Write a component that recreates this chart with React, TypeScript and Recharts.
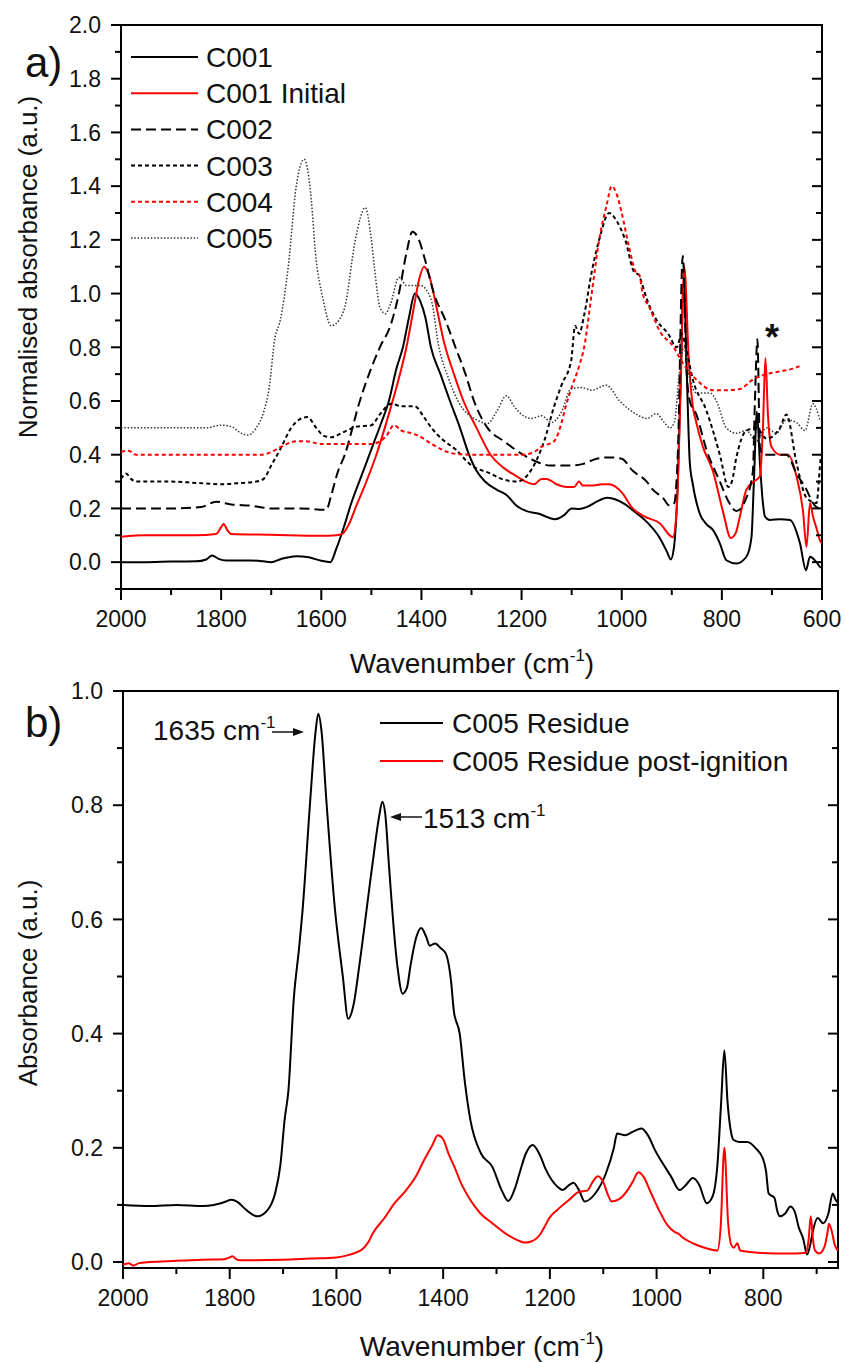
import { Line, LineChart, ReferenceArea, XAxis, YAxis } from 'recharts';

type Pt = [number, number];

// panel a) — [wavenumber, normalised absorbance]
const C001: Pt[] = [
  [2000, 0.0], [1950, 0.0], [1900, 0.002], [1850, 0.003], [1830, 0.01], [1818, 0.025], [1805, 0.012],
  [1790, 0.006], [1740, 0.006], [1715, 0.003], [1700, 0.0], [1680, 0.012], [1650, 0.022], [1625, 0.018],
  [1600, 0.005], [1582, 0.0], [1570, 0.05], [1555, 0.13], [1540, 0.22], [1520, 0.32], [1500, 0.42],
  [1480, 0.52], [1465, 0.6], [1450, 0.72], [1437, 0.8], [1425, 0.91], [1413, 1.0], [1402, 0.97],
  [1392, 0.91], [1381, 0.8], [1362, 0.7], [1343, 0.6], [1323, 0.5], [1305, 0.4], [1290, 0.34],
  [1273, 0.3], [1250, 0.27], [1230, 0.25], [1210, 0.21], [1190, 0.19], [1165, 0.18], [1145, 0.165],
  [1133, 0.16], [1115, 0.175], [1100, 0.2], [1085, 0.198], [1070, 0.205], [1050, 0.225], [1030, 0.24],
  [1015, 0.235], [993, 0.215], [978, 0.193], [950, 0.15], [924, 0.09], [910, 0.04], [902, 0.01],
  [896, 0.05], [888, 0.3], [882, 0.7], [876, 1.05], [870, 0.7], [864, 0.37], [858, 0.29], [844, 0.18],
  [830, 0.14], [818, 0.12], [804, 0.07], [791, 0.007], [771, -0.005], [751, 0.02], [741, 0.09],
  [736, 0.3], [730, 0.56], [724, 0.37], [718, 0.22], [714, 0.17], [704, 0.157], [684, 0.16],
  [664, 0.157], [644, 0.07], [632, -0.03], [624, 0.02], [611, 0.0], [602, -0.02], [600, -0.02],
];

const C001_INITIAL: Pt[] = [
  [2000, 0.095], [1950, 0.1], [1850, 0.1], [1810, 0.105], [1800, 0.13], [1795, 0.142], [1788, 0.12],
  [1780, 0.105], [1700, 0.102], [1600, 0.098], [1570, 0.1], [1558, 0.105], [1545, 0.14], [1530, 0.21],
  [1510, 0.3], [1490, 0.4], [1470, 0.52], [1450, 0.65], [1430, 0.8], [1415, 0.95], [1405, 1.05],
  [1395, 1.1], [1385, 1.07], [1370, 0.95], [1355, 0.82], [1335, 0.7], [1316, 0.6], [1290, 0.5],
  [1262, 0.4], [1235, 0.35], [1210, 0.32], [1192, 0.3], [1175, 0.29], [1160, 0.31], [1150, 0.31],
  [1130, 0.29], [1110, 0.28], [1095, 0.28], [1085, 0.3], [1078, 0.285], [1060, 0.285], [1040, 0.29],
  [1025, 0.29], [1000, 0.26], [978, 0.2], [955, 0.17], [924, 0.145], [898, 0.093], [890, 0.2],
  [883, 0.6], [875, 1.1], [866, 0.75], [858, 0.58], [851, 0.52], [838, 0.43], [818, 0.34], [798, 0.19],
  [782, 0.09], [772, 0.11], [764, 0.17], [751, 0.27], [736, 0.3], [724, 0.32], [718, 0.5], [713, 0.76],
  [708, 0.55], [701, 0.43], [684, 0.4], [668, 0.4], [651, 0.32], [638, 0.19], [631, 0.057], [624, 0.22],
  [618, 0.17], [610, 0.12], [604, 0.08], [600, 0.07],
];

const C002: Pt[] = [
  [2000, 0.2], [1900, 0.2], [1840, 0.205], [1810, 0.225], [1780, 0.215], [1740, 0.21], [1700, 0.2],
  [1640, 0.2], [1590, 0.195], [1580, 0.25], [1568, 0.33], [1553, 0.4], [1523, 0.6], [1483, 0.8],
  [1462, 0.88], [1445, 1.0], [1430, 1.15], [1418, 1.23], [1405, 1.2], [1392, 1.12], [1375, 1.0],
  [1352, 0.9], [1332, 0.8], [1312, 0.7], [1295, 0.6], [1268, 0.5], [1235, 0.45], [1197, 0.4],
  [1165, 0.37], [1144, 0.36], [1100, 0.36], [1079, 0.365], [1050, 0.385], [1025, 0.39], [1000, 0.385],
  [978, 0.34], [950, 0.3], [938, 0.27], [918, 0.24], [904, 0.21], [895, 0.22], [888, 0.4], [878, 1.14],
  [870, 0.7], [864, 0.6], [851, 0.55], [831, 0.42], [804, 0.3], [785, 0.22], [771, 0.19], [751, 0.24],
  [738, 0.34], [734, 0.6], [729, 0.83], [724, 0.43], [718, 0.4], [684, 0.4], [671, 0.4], [651, 0.33],
  [631, 0.27], [618, 0.22], [604, 0.2], [600, 0.2],
];

const C003: Pt[] = [
  [2000, 0.31], [1990, 0.33], [1980, 0.31], [1970, 0.3], [1900, 0.3], [1850, 0.295], [1800, 0.29],
  [1760, 0.295], [1730, 0.3], [1715, 0.31], [1700, 0.36], [1682, 0.42], [1660, 0.5], [1640, 0.535],
  [1628, 0.54], [1610, 0.5], [1595, 0.47], [1580, 0.465], [1560, 0.48], [1530, 0.504], [1500, 0.51],
  [1483, 0.55], [1460, 0.59], [1440, 0.58], [1413, 0.58], [1395, 0.54], [1380, 0.5], [1360, 0.46],
  [1332, 0.42], [1300, 0.36], [1262, 0.33], [1240, 0.31], [1208, 0.3], [1190, 0.32], [1170, 0.38],
  [1155, 0.45], [1135, 0.58], [1120, 0.66], [1101, 0.75], [1093, 0.88], [1085, 0.85], [1075, 0.92],
  [1060, 1.08], [1045, 1.2], [1025, 1.3], [1010, 1.27], [993, 1.2], [975, 1.08], [966, 1.07],
  [960, 1.04], [950, 0.98], [930, 0.9], [907, 0.85], [890, 0.8], [880, 0.85], [872, 0.8], [858, 0.68],
  [831, 0.565], [804, 0.4], [787, 0.28], [780, 0.3], [771, 0.39], [751, 0.49], [731, 0.5], [711, 0.46],
  [684, 0.5], [671, 0.55], [651, 0.37], [631, 0.24], [611, 0.22], [602, 0.39], [600, 0.4],
];

const C004: Pt[] = [
  [2000, 0.41], [1985, 0.415], [1970, 0.4], [1900, 0.4], [1800, 0.4], [1720, 0.4], [1700, 0.41],
  [1680, 0.43], [1650, 0.45], [1630, 0.45], [1600, 0.44], [1550, 0.44], [1500, 0.44], [1470, 0.47],
  [1455, 0.51], [1440, 0.49], [1420, 0.48], [1405, 0.47], [1380, 0.44], [1360, 0.42], [1338, 0.405],
  [1300, 0.4], [1250, 0.4], [1200, 0.4], [1175, 0.41], [1160, 0.43], [1135, 0.45], [1120, 0.52],
  [1112, 0.578], [1100, 0.65], [1085, 0.73], [1075, 0.8], [1060, 1.0], [1045, 1.2], [1030, 1.33],
  [1020, 1.4], [1010, 1.37], [1000, 1.3], [985, 1.17], [972, 1.08], [965, 1.07], [958, 1.0],
  [945, 0.95], [924, 0.86], [896, 0.8], [884, 0.76], [870, 0.72], [851, 0.68], [818, 0.64], [791, 0.64],
  [764, 0.645], [738, 0.68], [711, 0.7], [684, 0.71], [651, 0.725], [645, 0.73],
];

const C005: Pt[] = [
  [2000, 0.5], [1900, 0.5], [1830, 0.5], [1800, 0.51], [1780, 0.505], [1760, 0.48], [1747, 0.473],
  [1730, 0.5], [1715, 0.56], [1704, 0.65], [1693, 0.83], [1682, 0.9], [1666, 1.1], [1650, 1.4],
  [1634, 1.5], [1620, 1.35], [1612, 1.16], [1596, 0.975], [1580, 0.88], [1565, 0.9], [1553, 0.95],
  [1532, 1.2], [1512, 1.32], [1500, 1.2], [1494, 1.1], [1483, 0.95], [1472, 0.925], [1462, 0.96],
  [1445, 1.06], [1429, 1.03], [1402, 1.03], [1381, 0.98], [1365, 0.8], [1345, 0.68], [1327, 0.6],
  [1290, 0.53], [1268, 0.516], [1250, 0.56], [1230, 0.62], [1215, 0.58], [1200, 0.55], [1180, 0.535],
  [1160, 0.545], [1140, 0.52], [1120, 0.56], [1101, 0.646], [1080, 0.65], [1060, 0.64], [1031, 0.659],
  [1004, 0.6], [970, 0.55], [950, 0.535], [931, 0.553], [915, 0.52], [904, 0.5], [895, 0.52],
  [885, 0.7], [876, 0.8], [866, 0.7], [851, 0.63], [824, 0.63], [811, 0.6], [791, 0.5], [771, 0.48],
  [751, 0.49], [731, 0.45], [711, 0.5], [691, 0.48], [671, 0.53], [651, 0.52], [634, 0.49], [618, 0.59],
  [611, 0.57], [604, 0.53], [600, 0.52],
];

// panel b) — [wavenumber, absorbance]
const RESIDUE: Pt[] = [
  [2000, 0.1], [1950, 0.098], [1900, 0.1], [1850, 0.098], [1830, 0.1], [1810, 0.105], [1797, 0.109],
  [1785, 0.105], [1770, 0.092], [1748, 0.08], [1730, 0.09], [1715, 0.12], [1705, 0.17], [1697, 0.25],
  [1690, 0.3], [1680, 0.46], [1670, 0.55], [1664, 0.61], [1649, 0.81], [1640, 0.92], [1634, 0.96],
  [1628, 0.93], [1619, 0.81], [1603, 0.62], [1588, 0.5], [1578, 0.426], [1568, 0.45], [1557, 0.52],
  [1532, 0.7], [1520, 0.78], [1514, 0.806], [1508, 0.78], [1502, 0.7], [1486, 0.52], [1476, 0.47],
  [1468, 0.48], [1461, 0.52], [1450, 0.57], [1441, 0.585], [1432, 0.57], [1425, 0.554], [1415, 0.558],
  [1405, 0.55], [1395, 0.54], [1385, 0.49], [1380, 0.44], [1369, 0.4], [1359, 0.313], [1349, 0.249],
  [1329, 0.19], [1308, 0.167], [1290, 0.125], [1278, 0.107], [1265, 0.13], [1257, 0.155], [1245, 0.19],
  [1232, 0.205], [1220, 0.19], [1207, 0.161], [1186, 0.132], [1176, 0.126], [1165, 0.134], [1156, 0.139],
  [1145, 0.125], [1135, 0.106], [1115, 0.12], [1095, 0.155], [1080, 0.2], [1074, 0.225], [1059, 0.222],
  [1045, 0.228], [1028, 0.234], [1015, 0.22], [1003, 0.196], [990, 0.175], [973, 0.15], [957, 0.126],
  [945, 0.135], [932, 0.147], [920, 0.135], [906, 0.103], [895, 0.115], [886, 0.17], [879, 0.28],
  [873, 0.371], [867, 0.28], [861, 0.23], [856, 0.214], [845, 0.21], [830, 0.21], [815, 0.2],
  [800, 0.179], [795, 0.16], [790, 0.12], [779, 0.112], [774, 0.09], [769, 0.08], [759, 0.085],
  [749, 0.097], [740, 0.085], [734, 0.062], [725, 0.04], [718, 0.013], [712, 0.03], [708, 0.05],
  [698, 0.077], [688, 0.068], [678, 0.085], [670, 0.12], [665, 0.11], [660, 0.103],
];

const POST_IGNITION: Pt[] = [
  [2000, -0.005], [1990, -0.002], [1980, -0.006], [1970, -0.002], [1950, 0.0], [1900, 0.002],
  [1850, 0.004], [1810, 0.005], [1800, 0.008], [1795, 0.01], [1788, 0.005], [1780, 0.003], [1700, 0.004],
  [1650, 0.006], [1600, 0.008], [1578, 0.012], [1565, 0.016], [1552, 0.022], [1540, 0.035], [1532, 0.05],
  [1510, 0.077], [1491, 0.103], [1470, 0.125], [1451, 0.15], [1435, 0.18], [1420, 0.205], [1410, 0.222],
  [1400, 0.215], [1390, 0.19], [1379, 0.167], [1365, 0.135], [1350, 0.11], [1330, 0.085], [1308, 0.068],
  [1280, 0.048], [1260, 0.038], [1247, 0.034], [1235, 0.036], [1217, 0.05], [1208, 0.065], [1201, 0.077],
  [1185, 0.092], [1165, 0.108], [1145, 0.123], [1130, 0.125], [1120, 0.14], [1110, 0.15], [1100, 0.14],
  [1090, 0.115], [1084, 0.106], [1070, 0.11], [1055, 0.125], [1045, 0.14], [1034, 0.157], [1025, 0.15],
  [1010, 0.12], [995, 0.09], [980, 0.065], [965, 0.052], [960, 0.05], [950, 0.042], [930, 0.032],
  [910, 0.025], [886, 0.02], [880, 0.06], [873, 0.2], [866, 0.07], [860, 0.03], [855, 0.025], [849, 0.033],
  [843, 0.02], [820, 0.017], [780, 0.015], [740, 0.015], [720, 0.016], [715, 0.04], [711, 0.08],
  [707, 0.04], [703, 0.02], [695, 0.015], [686, 0.025], [680, 0.05], [677, 0.067], [672, 0.055],
  [666, 0.03], [660, 0.02],
];

const X_TICKS_A = [2000, 1900, 1800, 1700, 1600, 1500, 1400, 1300, 1200, 1100, 1000, 900, 800, 700, 600];
const X_TICKS_B = [2000, 1900, 1800, 1700, 1600, 1500, 1400, 1300, 1200, 1100, 1000, 900, 800, 700];
const Y_TICKS_A = [-0.1, 0, 0.1, 0.2, 0.3, 0.4, 0.5, 0.6, 0.7, 0.8, 0.9, 1.0, 1.1, 1.2, 1.3, 1.4, 1.5, 1.6, 1.7, 1.8, 1.9, 2.0];
const Y_TICKS_B = [0, 0.1, 0.2, 0.3, 0.4, 0.5, 0.6, 0.7, 0.8, 0.9, 1.0];

const FONT = '"Liberation Sans", Arial, sans-serif';

const SERIES_A = [
  { name: 'C001', data: C001, color: '#000', dash: undefined, width: 2 },
  { name: 'C001 Initial', data: C001_INITIAL, color: '#f00', dash: undefined, width: 2 },
  { name: 'C002', data: C002, color: '#000', dash: '10 5', width: 2 },
  { name: 'C003', data: C003, color: '#000', dash: '4 3', width: 2 },
  { name: 'C004', data: C004, color: '#f00', dash: '4 3', width: 2 },
  { name: 'C005', data: C005, color: '#333', dash: '1.5 1.8', width: 1.5 },
];

const SERIES_B = [
  { name: 'C005 Residue', data: RESIDUE, color: '#000', width: 2 },
  { name: 'C005 Residue post-ignition', data: POST_IGNITION, color: '#f00', width: 2 },
];

const toPts = (d: Pt[]) => d.map(([w, v]) => ({ w, v }));

const XTick = (props: any) => {
  const { x, y, payload } = props;
  const v = payload.value;
  const major = Math.round(v) % 200 === 0;
  return (
    <g>
      <line x1={x} x2={x} y1={y} y2={y + (major ? 11 : 6)} stroke="#000" strokeWidth={2} />
      {major && (
        <text x={x} y={y + 38} textAnchor="middle" fontSize={23} fontFamily={FONT} fill="#111">
          {v}
        </text>
      )}
    </g>
  );
};

// left ticks point out, right ticks point in
const makeYTick = (innerWidth: number) => (props: any) => {
  const { x, y, payload } = props;
  const v = payload.value;
  const major = Math.round(v * 10) % 2 === 0;
  const len = major ? 10 : 6;
  const rx = x + innerWidth;
  return (
    <g>
      <line x1={x - len} x2={x} y1={y} y2={y} stroke="#000" strokeWidth={2} />
      <line x1={rx - len} x2={rx} y1={y} y2={y} stroke="#000" strokeWidth={2} />
      {major && (
        <text x={x - 20} y={y} dy="0.36em" textAnchor="end" fontSize={23} fontFamily={FONT} fill="#111">
          {v.toFixed(1)}
        </text>
      )}
    </g>
  );
};

const YTickA = makeYTick(701);
const YTickB = makeYTick(715);

function Sup({ children }: { children: string }) {
  return (
    <tspan dy={-12} fontSize={17}>
      {children}
    </tspan>
  );
}

export default function App() {
  return (
    <div style={{ position: 'relative', width: 845, height: 1363, background: '#fff' }}>
      <style>{'body{margin:0}'}</style>
      <div style={{ position: 'absolute', left: 0, top: 0 }}>
        <LineChart width={845} height={680} margin={{ top: 25, right: 23, bottom: 51, left: 0 }}>
          <XAxis
            dataKey="w"
            type="number"
            domain={[600, 2000]}
            reversed
            allowDataOverflow
            ticks={X_TICKS_A}
            interval={0}
            tick={XTick}
            tickLine={false}
            axisLine={false}
            tickSize={0}
            tickMargin={0}
            height={40}
          />
          <YAxis
            type="number"
            domain={[-0.1, 2]}
            allowDataOverflow
            ticks={Y_TICKS_A}
            interval={0}
            tick={YTickA}
            tickLine={false}
            axisLine={false}
            tickSize={0}
            tickMargin={0}
            width={121}
          />
          <ReferenceArea x1={600} x2={2000} y1={-0.1} y2={2} fill="none" stroke="#000" strokeWidth={2} ifOverflow="visible" />
          {SERIES_A.map((s) => (
            <Line
              key={s.name}
              data={toPts(s.data)}
              dataKey="v"
              name={s.name}
              type="monotone"
              stroke={s.color}
              strokeWidth={s.width}
              strokeDasharray={s.dash}
              dot={false}
              activeDot={false}
              isAnimationActive={false}
            />
          ))}
        </LineChart>
      </div>
      <div style={{ position: 'absolute', left: 0, top: 650 }}>
        <LineChart width={845} height={713} margin={{ top: 41, right: 7, bottom: 55, left: 0 }}>
          <XAxis
            dataKey="w"
            type="number"
            domain={[660, 2000]}
            reversed
            allowDataOverflow
            ticks={X_TICKS_B}
            interval={0}
            tick={XTick}
            tickLine={false}
            axisLine={false}
            tickSize={0}
            tickMargin={0}
            height={40}
          />
          <YAxis
            type="number"
            domain={[-0.0105, 1]}
            allowDataOverflow
            ticks={Y_TICKS_B}
            interval={0}
            tick={YTickB}
            tickLine={false}
            axisLine={false}
            tickSize={0}
            tickMargin={0}
            width={123}
          />
          <ReferenceArea x1={660} x2={2000} y1={-0.0105} y2={1} fill="none" stroke="#000" strokeWidth={2} ifOverflow="visible" />
          {SERIES_B.map((s) => (
            <Line
              key={s.name}
              data={toPts(s.data)}
              dataKey="v"
              name={s.name}
              type="monotone"
              stroke={s.color}
              strokeWidth={s.width}
              dot={false}
              activeDot={false}
              isAnimationActive={false}
            />
          ))}
        </LineChart>
      </div>
      <svg
        width={845}
        height={1363}
        style={{ position: 'absolute', left: 0, top: 0, pointerEvents: 'none' }}
        fontFamily={FONT}
        fill="#111"
      >
        <text x={25} y={77} fontSize={42}>a)</text>
        <text x={25} y={737} fontSize={42}>b)</text>

        <text x={37} y={267} fontSize={26} textAnchor="middle" transform="rotate(-90 37 267)">
          Normalised absorbance (a.u.)
        </text>
        <text x={37} y={983} fontSize={26} textAnchor="middle" transform="rotate(-90 37 983)">
          Absorbance (a.u.)
        </text>
        <text x={472} y={673} fontSize={28} textAnchor="middle">
          Wavenumber (cm<Sup>-1</Sup><tspan dy={12}>)</tspan>
        </text>
        <text x={482} y={1356} fontSize={28} textAnchor="middle">
          Wavenumber (cm<Sup>-1</Sup><tspan dy={12}>)</tspan>
        </text>

        {SERIES_A.map((s, i) => {
          const y = 57 + i * 36.2;
          return (
            <g key={s.name}>
              <line x1={131} x2={198} y1={y} y2={y} stroke={s.color} strokeWidth={s.width} strokeDasharray={s.dash} />
              <text x={206} y={y + 10} fontSize={28}>{s.name}</text>
            </g>
          );
        })}

        {SERIES_B.map((s, i) => {
          const y = 723 + i * 38;
          return (
            <g key={s.name}>
              <line x1={380} x2={443} y1={y} y2={y} stroke={s.color} strokeWidth={s.width} />
              <text x={452} y={y + 10} fontSize={28}>{s.name}</text>
            </g>
          );
        })}

        <text x={772} y={350} fontSize={36} fontWeight="bold" textAnchor="middle">*</text>

        <text x={153} y={740} fontSize={28}>
          1635 cm<Sup>-1</Sup>
        </text>
        <line x1={272} x2={296} y1={732} y2={732} stroke="#111" strokeWidth={1.5} />
        <polygon points="304,732 293,728 293,736" fill="#111" />

        <line x1={398} x2={422} y1={817} y2={817} stroke="#111" strokeWidth={1.5} />
        <polygon points="390,817 401,813 401,821" fill="#111" />
        <text x={423} y={828} fontSize={28}>
          1513 cm<Sup>-1</Sup>
        </text>
      </svg>
    </div>
  );
}
